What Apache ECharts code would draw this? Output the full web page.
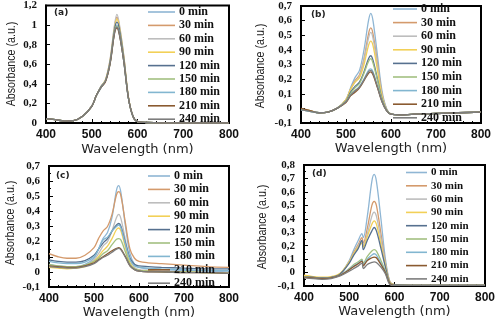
<!DOCTYPE html>
<html><head><meta charset="utf-8">
<script src="https://cdn.jsdelivr.net/npm/echarts@6/dist/echarts.min.js"></script>
<style>html,body{margin:0;padding:0;background:#fff}#c{width:500px;height:321px}</style>
</head><body><div id="c"></div>
<script>
const timeLabels = ['0 min','30 min','60 min','90 min','120 min','150 min','180 min','210 min','240 min'];
const wavelengths = [400,420,440,460,480,500,510,520,530,540,550,555,560,570,580,590,600,620,650,700,750,800];
const wavelengthsD = [400,420,440,460,480,500,510,520,528,531,540,550,555,560,570,580,590,600,650,700,750,800];
const panelLabels = ['(a)','(b)','(c)','(d)'];
const yTitle = 'Absorbance (a.u.)';
const xTitle = 'Wavelength (nm)';

const absA = [
 [0.045,0.035,0.02,0.025,0.07,0.17,0.28,0.37,0.43,0.62,0.95,1.00,0.94,0.64,0.26,0.07,0.015,0.005,0,0,0,0],
 [0.045,0.035,0.02,0.025,0.07,0.17,0.28,0.37,0.44,0.64,0.99,1.08,1.00,0.68,0.27,0.07,0.015,0.005,0,0,0,0],
 [0.04,0.035,0.02,0.025,0.07,0.17,0.28,0.37,0.44,0.65,1.01,1.11,1.02,0.69,0.27,0.07,0.015,0.005,0,0,0,0],
 [0.045,0.035,0.02,0.025,0.07,0.17,0.28,0.37,0.44,0.63,0.97,1.06,0.99,0.67,0.27,0.07,0.015,0.005,0,0,0,0],
 [0.045,0.035,0.02,0.025,0.07,0.17,0.28,0.37,0.43,0.62,0.96,1.03,0.97,0.66,0.26,0.07,0.015,0.005,0,0,0,0],
 [0.045,0.035,0.02,0.025,0.07,0.17,0.28,0.36,0.43,0.61,0.94,0.99,0.93,0.64,0.26,0.07,0.015,0.005,0,0,0,0],
 [0.045,0.035,0.02,0.025,0.07,0.17,0.28,0.36,0.43,0.61,0.93,0.98,0.92,0.63,0.26,0.07,0.015,0.005,0,0,0,0],
 [0.045,0.035,0.02,0.025,0.07,0.17,0.28,0.36,0.42,0.60,0.92,0.97,0.91,0.63,0.26,0.07,0.015,0.005,0,0,0,0],
 [0.045,0.035,0.02,0.025,0.07,0.17,0.28,0.36,0.43,0.61,0.93,0.98,0.92,0.63,0.26,0.07,0.015,0.005,0,0,0,0]
];
const absB = [
 [-0.005,-0.015,-0.03,-0.025,0.0,0.06,0.14,0.21,0.26,0.40,0.60,0.65,0.60,0.36,0.12,0.0,-0.04,-0.045,-0.04,-0.035,-0.03,-0.025],
 [-0.005,-0.015,-0.03,-0.025,0.0,0.06,0.13,0.19,0.23,0.34,0.51,0.55,0.51,0.31,0.10,-0.005,-0.04,-0.045,-0.04,-0.035,-0.03,-0.025],
 [-0.005,-0.015,-0.03,-0.025,0.0,0.06,0.13,0.18,0.22,0.33,0.48,0.52,0.48,0.29,0.095,-0.005,-0.04,-0.045,-0.04,-0.035,-0.03,-0.025],
 [-0.005,-0.015,-0.03,-0.025,0.0,0.06,0.13,0.18,0.21,0.30,0.43,0.46,0.43,0.26,0.085,-0.01,-0.04,-0.045,-0.04,-0.035,-0.03,-0.025],
 [-0.01,-0.02,-0.03,-0.025,0.0,0.05,0.11,0.15,0.18,0.25,0.34,0.36,0.33,0.20,0.065,-0.01,-0.04,-0.045,-0.04,-0.035,-0.03,-0.025],
 [-0.01,-0.02,-0.03,-0.025,0.0,0.05,0.10,0.14,0.17,0.24,0.32,0.34,0.31,0.19,0.06,-0.01,-0.04,-0.045,-0.04,-0.035,-0.03,-0.025],
 [-0.01,-0.02,-0.03,-0.025,0.0,0.045,0.09,0.12,0.15,0.20,0.26,0.27,0.25,0.15,0.05,-0.015,-0.04,-0.045,-0.04,-0.035,-0.03,-0.025],
 [0.0,-0.015,-0.03,-0.025,0.0,0.04,0.085,0.11,0.14,0.19,0.24,0.25,0.23,0.14,0.045,-0.015,-0.04,-0.045,-0.04,-0.035,-0.03,-0.025],
 [-0.01,-0.02,-0.03,-0.025,0.0,0.045,0.09,0.12,0.145,0.195,0.25,0.26,0.24,0.145,0.045,-0.015,-0.04,-0.045,-0.04,-0.035,-0.03,-0.025]
];
const absC = [
 [0.05,0.04,0.035,0.035,0.05,0.09,0.15,0.22,0.26,0.36,0.54,0.57,0.52,0.30,0.12,0.05,0.03,0.02,0.015,0.01,0.005,0.0],
 [0.12,0.10,0.09,0.09,0.11,0.16,0.22,0.27,0.30,0.38,0.51,0.53,0.50,0.32,0.15,0.09,0.07,0.06,0.055,0.045,0.035,0.03],
 [0.04,0.035,0.03,0.03,0.04,0.08,0.12,0.17,0.20,0.27,0.36,0.38,0.35,0.21,0.08,0.03,0.015,0.01,0.005,0.0,-0.005,-0.01],
 [0.03,0.025,0.02,0.025,0.035,0.07,0.10,0.14,0.17,0.22,0.28,0.29,0.27,0.16,0.06,0.02,0.01,0.005,0.0,0.0,-0.005,-0.01],
 [0.08,0.07,0.065,0.065,0.075,0.11,0.15,0.19,0.22,0.27,0.31,0.32,0.30,0.19,0.09,0.05,0.04,0.035,0.03,0.025,0.02,0.02],
 [0.05,0.04,0.035,0.035,0.045,0.07,0.09,0.12,0.14,0.18,0.215,0.22,0.21,0.13,0.05,0.02,0.01,0.005,0.0,0.0,-0.005,-0.01],
 [0.07,0.06,0.055,0.055,0.065,0.10,0.15,0.21,0.23,0.27,0.30,0.31,0.29,0.18,0.08,0.04,0.03,0.025,0.02,0.015,0.01,0.01],
 [0.04,0.035,0.03,0.03,0.04,0.06,0.08,0.10,0.12,0.14,0.155,0.16,0.15,0.10,0.04,0.015,0.005,0.0,0.0,-0.005,-0.005,-0.01],
 [0.035,0.03,0.025,0.025,0.035,0.055,0.075,0.095,0.11,0.13,0.15,0.155,0.145,0.095,0.04,0.015,0.005,0.0,0.0,-0.005,-0.005,-0.01]
];
const absD = [
 [-0.03,-0.04,-0.045,-0.04,-0.01,0.09,0.17,0.24,0.29,0.26,0.42,0.68,0.73,0.68,0.40,0.10,-0.07,-0.09,-0.095,-0.095,-0.095,-0.095],
 [-0.025,-0.035,-0.04,-0.035,-0.01,0.08,0.15,0.21,0.26,0.22,0.33,0.50,0.53,0.50,0.29,0.07,-0.07,-0.09,-0.095,-0.095,-0.095,-0.095],
 [-0.03,-0.035,-0.04,-0.035,-0.01,0.08,0.14,0.20,0.24,0.20,0.29,0.42,0.45,0.42,0.25,0.06,-0.075,-0.09,-0.095,-0.095,-0.095,-0.095],
 [-0.02,-0.03,-0.035,-0.03,-0.005,0.08,0.14,0.19,0.22,0.19,0.27,0.36,0.385,0.36,0.21,0.05,-0.075,-0.09,-0.095,-0.095,-0.095,-0.095],
 [-0.03,-0.035,-0.04,-0.035,-0.01,0.07,0.13,0.18,0.24,0.17,0.24,0.31,0.335,0.31,0.18,0.04,-0.08,-0.09,-0.095,-0.095,-0.095,-0.095],
 [-0.03,-0.04,-0.045,-0.04,-0.02,0.03,0.06,0.08,0.10,0.07,0.12,0.16,0.17,0.16,0.09,0.01,-0.085,-0.095,-0.095,-0.095,-0.095,-0.095],
 [-0.035,-0.04,-0.045,-0.04,-0.02,0.025,0.05,0.07,0.09,0.06,0.10,0.13,0.14,0.13,0.07,0.0,-0.085,-0.095,-0.095,-0.095,-0.095,-0.095],
 [-0.035,-0.04,-0.045,-0.04,-0.02,0.02,0.045,0.065,0.085,0.05,0.09,0.11,0.115,0.11,0.06,0.0,-0.085,-0.095,-0.095,-0.095,-0.095,-0.095],
 [-0.04,-0.045,-0.05,-0.045,-0.025,0.01,0.03,0.05,0.07,0.03,0.06,0.075,0.08,0.075,0.04,-0.01,-0.09,-0.095,-0.095,-0.095,-0.095,-0.095]
];

const colors = ['#8fb6d4','#d49a6c','#bdbdbd','#f2d057','#56708f','#a3c081','#82b6d0','#8a5a30','#7d7d7d'];

const panels = [
 {grid:{left:46,top:5,width:183,height:118}, ymin:0, ymax:1.2, yint:0.2, wl:wavelengths, data:absA,
  yName:[11,64], xGap:20, lab:[54,8], leg:{left:148,top:6,iw:27,gap:1.4,fs:12}},
 {grid:{left:301,top:6,width:180,height:117}, ymin:-0.1, ymax:0.7, yint:0.1, wl:wavelengths, data:absB,
  yName:[260,66], xGap:17, lab:[311,10], leg:{left:393,top:3,iw:24,gap:1.6,fs:12}},
 {grid:{left:49,top:166,width:180,height:121}, ymin:-0.1, ymax:0.7, yint:0.1, wl:wavelengths, data:absC,
  yName:[10,223], xGap:18, lab:[56,171], leg:{left:148,top:170,iw:22,gap:1.4,fs:12}},
 {grid:{left:304,top:165,width:181,height:121}, ymin:-0.1, ymax:0.8, yint:0.1, wl:wavelengthsD, data:absD,
  yName:[262,227], xGap:15, lab:[312,169], leg:{left:406,top:167,iw:21,gap:2.3,fs:11}}
];

const fmt = v => String(Math.round(v*10)/10).replace('.', ',');
const grids=[], xAxes=[], yAxes=[], series=[], legends=[], graphics=[];
panels.forEach((p,i)=>{
  grids.push(Object.assign({show:true, borderColor:'#000', borderWidth:2, containLabel:false}, p.grid));
  xAxes.push({gridIndex:i, type:'value', min:400, max:800, interval:100,
    name:xTitle, nameLocation:'middle', nameGap:p.xGap,
    nameTextStyle:{fontFamily:'DejaVu Sans', fontSize:13, color:'#222'},
    axisLine:{onZero:false, lineStyle:{color:'#000', width:2}},
    axisTick:{inside:true, length:4, lineStyle:{color:'#000'}},
    minorTick:{show:true, splitNumber:5, length:2, lineStyle:{color:'#000'}},
    splitLine:{show:false},
    axisLabel:{margin:6, fontFamily:'Liberation Sans', fontWeight:'bold', fontSize:12, color:'#111'}});
  yAxes.push({gridIndex:i, type:'value', min:p.ymin, max:p.ymax, interval:p.yint,
    axisLine:{onZero:false, lineStyle:{color:'#000', width:2}},
    axisTick:{inside:true, length:4, lineStyle:{color:'#000'}},
    minorTick:{show:i>=2, splitNumber:2, length:2, lineStyle:{color:'#000'}},
    splitLine:{show:false},
    axisLabel:{margin:9, formatter:fmt, fontFamily:'Liberation Serif', fontWeight:'bold', fontSize:11, color:'#111'}});
  p.data.forEach((vals,j)=>{
    series.push({type:'line', name:timeLabels[j], xAxisIndex:i, yAxisIndex:i,
      data:p.wl.map((w,k)=>[w, vals[k]]), showSymbol:false, symbol:'none', smooth:0.35,
      lineStyle:{width:1.3, color:colors[j]}, itemStyle:{color:colors[j]}, silent:true, animation:false});
  });
  legends.push({data:timeLabels, orient:'vertical', left:p.leg.left, top:p.leg.top, padding:0,
    icon:'rect', itemWidth:p.leg.iw, itemHeight:1.6, itemGap:p.leg.gap, selectedMode:false,
    textStyle:{fontFamily:'Liberation Serif', fontWeight:'bold', fontSize:p.leg.fs, color:'#111', padding:[0,0,0,-1]}});
  graphics.push({type:'text', left:p.lab[0], top:p.lab[1],
    style:{text:panelLabels[i], font:'bold 9px "DejaVu Sans"', fill:'#222'}});
  graphics.push({type:'text', x:p.yName[0], y:p.yName[1], rotation:Math.PI/2, scaleX:0.82,
    style:{text:yTitle, font:'13px "Liberation Sans"', fill:'#222', align:'center', verticalAlign:'middle'}});
});

const chart = echarts.init(document.getElementById('c'), null, {renderer:'canvas'});
chart.setOption({animation:false, backgroundColor:'#fff', grid:grids, xAxis:xAxes, yAxis:yAxes,
  series:series, legend:legends, graphic:graphics});
</script></body></html>
